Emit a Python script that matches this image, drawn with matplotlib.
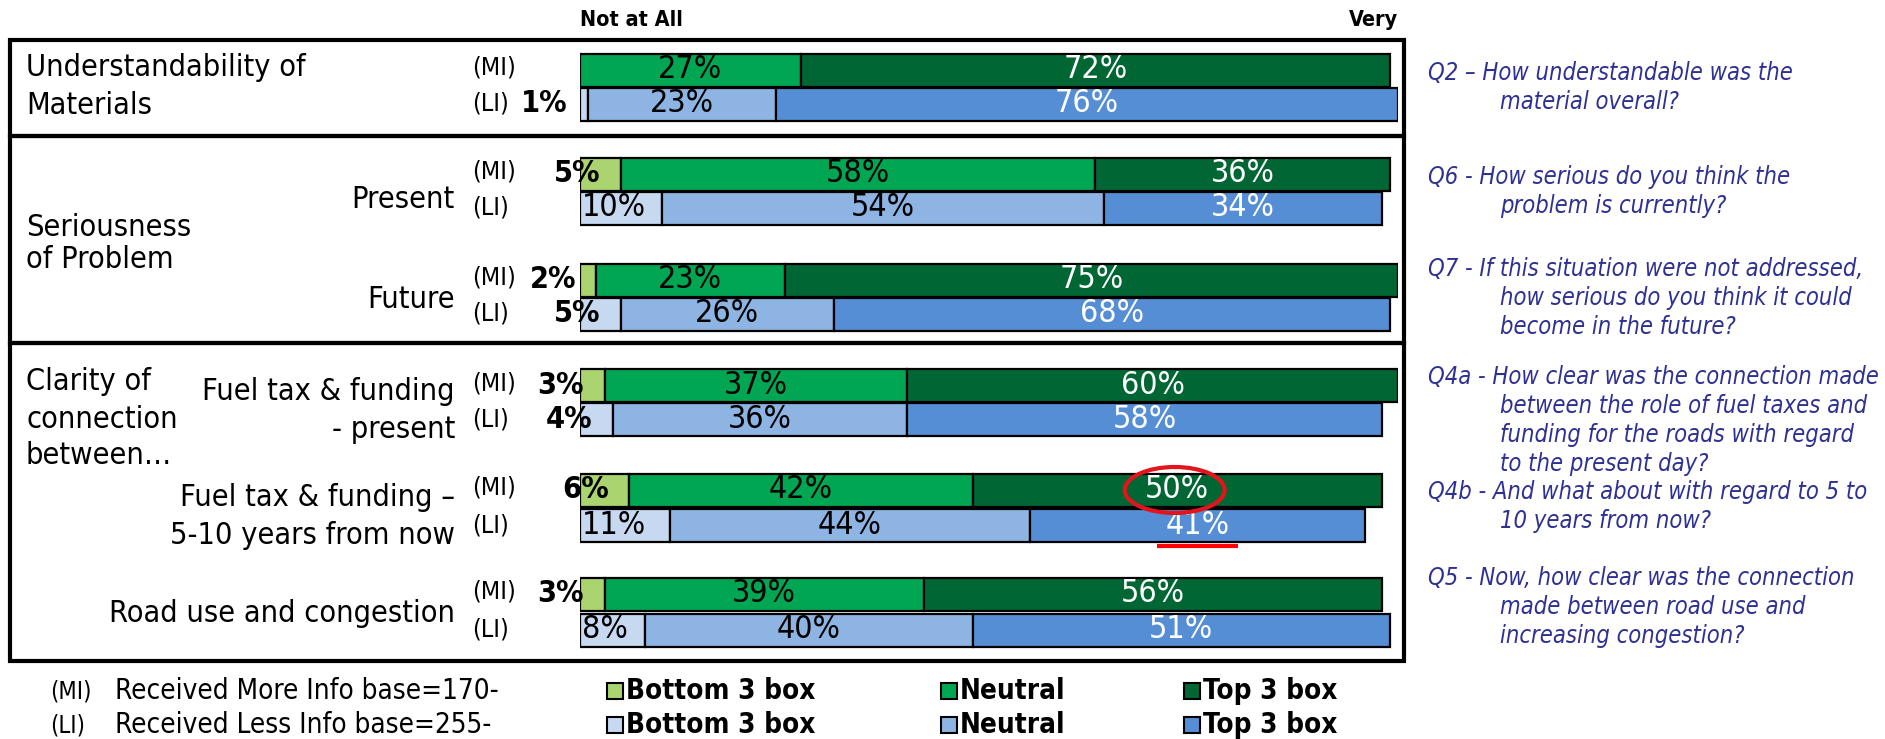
import matplotlib
matplotlib.use("Agg")
import matplotlib.pyplot as plt
from matplotlib import font_manager as fm
from matplotlib.patches import Ellipse, Rectangle

W, H, DPI = 1885, 739, 100

# ---- data (percent of respondents) ----
groups = ["Understandability", "Present", "Future",
          "Fuel tax present", "Fuel tax 5-10 years", "Road use"]
mi_bottom = [0, 5, 2, 3, 6, 3]
mi_neutral = [27, 58, 23, 37, 42, 39]
mi_top = [72, 36, 75, 60, 50, 56]
li_bottom = [1, 10, 5, 4, 11, 8]
li_neutral = [23, 54, 26, 36, 44, 40]
li_top = [76, 34, 68, 58, 41, 51]

legend_labels = ["Bottom 3 box", "Neutral", "Top 3 box"]
mi_colors = ["#A9D46F", "#00A651", "#006633"]
li_colors = ["#C6D9F1", "#8DB4E2", "#558ED5"]

questions = [
    ["Q2 \u2013 How understandable was the", "material overall?"],
    ["Q6 - How serious do you think the", "problem is currently?"],
    ["Q7 - If this situation were not addressed,", "how serious do you think it could",
     "become in the future?"],
    ["Q4a - How clear was the connection made", "between the role of fuel taxes and",
     "funding for the roads with regard", "to the present day?"],
    ["Q4b - And what about with regard to 5 to", "10 years from now?"],
    ["Q5 - Now, how clear was the connection", "made between road use and",
     "increasing congestion?"],
]

# ---- layout (pixels from top-left) ----
BAR_LEFT, BAR_RIGHT = 580, 1398
MI_Y = [70, 174, 280, 385, 490, 594]
LI_Y = [104, 208, 314, 419, 525, 630]
BAR_H = 33
Q_Y = [73, 177, 269, 377, 492, 578]
Q_LINE = 29
HIGHLIGHT = 4

cond = [f for f in fm.fontManager.ttflist
        if f.name == "DejaVu Sans" and f.stretch == "condensed"]
if cond:
    plt.rcParams["font.family"] = "DejaVu Sans"
    plt.rcParams["font.stretch"] = "condensed"
else:
    plt.rcParams["font.family"] = "Liberation Sans"

fig = plt.figure(figsize=(W / DPI, H / DPI), dpi=DPI)
fig.patch.set_facecolor("white")

ov = fig.add_axes([0, 0, 1, 1])
ov.set_xlim(0, W)
ov.set_ylim(H, 0)
ov.axis("off")

ax = fig.add_axes([BAR_LEFT / W, 0, (BAR_RIGHT - BAR_LEFT) / W, 1])
ax.set_xlim(0, 100)
ax.set_ylim(H, 0)
ax.axis("off")

# section boxes
for top, bot in [(40, 136), (136, 343), (343, 661)]:
    ov.add_patch(Rectangle((10, top), 1394, bot - top, fill=False,
                           edgecolor="black", linewidth=3))

# stacked bars
LBL = 23
for bottoms, neutrals, tops, ys, colors in [
        (mi_bottom, mi_neutral, mi_top, MI_Y, mi_colors),
        (li_bottom, li_neutral, li_top, LI_Y, li_colors)]:
    for b, n, t, y in zip(bottoms, neutrals, tops, ys):
        left = 0
        for k, v in enumerate((b, n, t)):
            if v > 0:
                ax.barh(y, v, left=left, height=BAR_H, color=colors[k],
                        edgecolor="black", linewidth=1.6)
            if k == 2:
                ax.text(left + v / 2, y, f"{v}%", color="white", fontsize=LBL,
                        ha="center", va="center")
            elif k == 1:
                ax.text(left + v / 2, y, f"{v}%", color="black", fontsize=LBL,
                        ha="center", va="center")
            elif v >= 8:
                ax.text(0.2, y, f"{v}%", color="black", fontsize=LBL,
                        ha="left", va="center")
            elif v > 0:
                ax.text(v - 2.5, y, f"{v}%", color="black", fontsize=LBL - 1,
                        fontweight="bold", ha="right", va="center")
            left += v

# highlight on the 5-10 years row
hx = mi_bottom[HIGHLIGHT] + mi_neutral[HIGHLIGHT] + mi_top[HIGHLIGHT] / 2
ax.add_patch(Ellipse((hx - 0.3, MI_Y[HIGHLIGHT]), 12.2, 46, fill=False,
                     edgecolor="#E3141B", linewidth=3, zorder=5))
ux = li_bottom[HIGHLIGHT] + li_neutral[HIGHLIGHT] + li_top[HIGHLIGHT] / 2
ax.plot([ux - 5, ux + 5], [LI_Y[HIGHLIGHT] + 21] * 2, color="#FF0000",
        linewidth=3, solid_capstyle="butt")

# scale anchors
ov.text(BAR_LEFT, 20, "Not at All", fontsize=15.5, fontweight="bold",
        ha="left", va="center")
ov.text(BAR_RIGHT, 20, "Very", fontsize=15.5, fontweight="bold",
        ha="right", va="center")

# left labels
MAIN = 22
for txt, y in [("Understandability of", 68), ("Materials", 106),
               ("Seriousness", 227), ("of Problem", 260),
               ("Clarity of", 382), ("connection", 419), ("between\u2026", 456)]:
    ov.text(26, y, txt, fontsize=MAIN, ha="left", va="center")
for txt, y in [("Present", 200), ("Future", 300),
               ("Fuel tax & funding", 392), ("- present", 430),
               ("Fuel tax & funding \u2013", 497), ("5-10 years from now", 535),
               ("Road use and congestion", 613)]:
    ov.text(455, y, txt, fontsize=MAIN, ha="right", va="center")
for y in MI_Y:
    ov.text(472, y - 2, "(MI)", fontsize=18, ha="left", va="center")
for y in LI_Y:
    ov.text(472, y, "(LI)", fontsize=18, ha="left", va="center")

# question text
for lines, y0 in zip(questions, Q_Y):
    for j, line in enumerate(lines):
        ov.text(1428 if j == 0 else 1500, y0 + j * Q_LINE, line, fontsize=17,
                style="italic", color="#2E3192", ha="left", va="center")

# legend
for y, tag, base, colors in [(691, "(MI)", "Received More Info base=170-", mi_colors),
                             (725, "(LI)", "Received Less Info base=255-", li_colors)]:
    ov.text(50, y, tag, fontsize=17, ha="left", va="center")
    ov.text(115, y, base, fontsize=20, ha="left", va="center")
    for x, lab, c in zip([607, 941, 1184], legend_labels, colors):
        ov.add_patch(Rectangle((x, y - 8), 16, 16, facecolor=c,
                               edgecolor="black", linewidth=1.5))
        ov.text(x + 19, y, lab, fontsize=20, fontweight="bold",
                ha="left", va="center")

fig.savefig("out.png", dpi=DPI, facecolor="white")
